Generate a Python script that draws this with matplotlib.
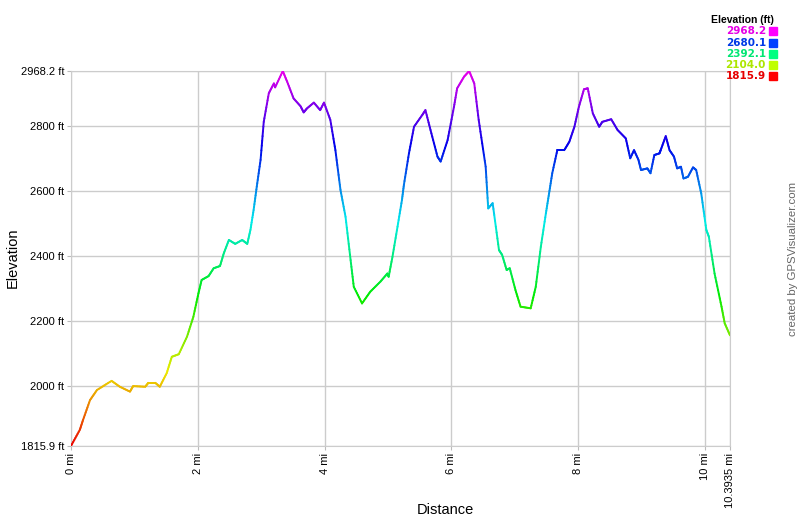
import colorsys
import matplotlib
matplotlib.use("Agg")
import matplotlib.pyplot as plt
import numpy as np
from matplotlib.collections import LineCollection

# distance (mi) and elevation (ft)
dist = [0.00, 0.14, 0.19, 0.30, 0.41, 0.64, 0.77, 0.93, 0.98, 1.17, 1.22, 1.33,
        1.40, 1.51, 1.59, 1.70, 1.83, 1.93, 2.01, 2.06, 2.17, 2.25, 2.35, 2.41,
        2.49, 2.59, 2.70, 2.78, 2.83, 2.88, 2.93, 2.99, 3.04, 3.12, 3.20, 3.22,
        3.34, 3.41, 3.51, 3.62, 3.67, 3.72, 3.83, 3.93, 3.99, 4.09, 4.17, 4.25,
        4.33, 4.41, 4.46, 4.59, 4.72, 4.88, 4.99, 5.01, 5.07, 5.15, 5.22, 5.25,
        5.33, 5.41, 5.54, 5.59, 5.67, 5.78, 5.83, 5.94, 6.04, 6.09, 6.20, 6.28,
        6.36, 6.43, 6.54, 6.58, 6.65, 6.75, 6.80, 6.87, 6.92, 7.01, 7.09, 7.25,
        7.33, 7.41, 7.49, 7.54, 7.59, 7.67, 7.78, 7.86, 7.94, 8.01, 8.09, 8.15,
        8.23, 8.33, 8.38, 8.52, 8.62, 8.75, 8.82, 8.88, 8.95, 8.99, 9.09, 9.14,
        9.20, 9.28, 9.30, 9.38, 9.44, 9.51, 9.56, 9.62, 9.66, 9.73, 9.81, 9.86,
        9.94, 10.02, 10.06, 10.15, 10.26, 10.31, 10.3935]
elev = [1816, 1866, 1896, 1957, 1988, 2016, 1998, 1983, 2000, 1998, 2010, 2010,
        1998, 2040, 2090, 2098, 2152, 2213, 2285, 2326, 2338, 2362, 2369, 2408,
        2449, 2437, 2449, 2437, 2480, 2541, 2613, 2695, 2812, 2900, 2930, 2918,
        2968, 2935, 2884, 2860, 2841, 2853, 2871, 2848, 2871, 2818, 2725, 2603,
        2520, 2387, 2305, 2254, 2290, 2321, 2346, 2336, 2397, 2490, 2572, 2618,
        2715, 2797, 2833, 2848, 2787, 2705, 2690, 2756, 2858, 2915, 2951, 2968,
        2930, 2818, 2674, 2546, 2562, 2418, 2403, 2357, 2362, 2295, 2244, 2239,
        2305, 2428, 2531, 2592, 2654, 2725, 2725, 2751, 2797, 2858, 2912, 2915,
        2838, 2797, 2812, 2820, 2787, 2761, 2700, 2725, 2695, 2664, 2669, 2654,
        2710, 2715, 2725, 2768, 2725, 2705, 2669, 2674, 2638, 2643, 2672, 2664,
        2592, 2480, 2459, 2346, 2244, 2193, 2156]

ymin, ymax = 1815.9, 2968.2
xmax = 10.3935
yticks = [1815.9, 2000, 2200, 2400, 2600, 2800, 2968.2]
ytick_labels = ["1815.9 ft", "2000 ft", "2200 ft", "2400 ft", "2600 ft", "2800 ft", "2968.2 ft"]
xticks = [0, 2, 4, 6, 8, 10, 10.3935]
xtick_labels = ["0 mi", "2 mi", "4 mi", "6 mi", "8 mi", "10 mi", "10.3935 mi"]
legend_vals = ["2968.2", "2680.1", "2392.1", "2104.0", "1815.9"]


def elev_color(e, v=0.92):
    h = (e - ymin) / (ymax - ymin) * 300.0 / 360.0
    return colorsys.hsv_to_rgb(h, 1.0, v)


plt.rcParams['font.family'] = ['Liberation Sans', 'DejaVu Sans']

fig = plt.figure(figsize=(8, 5.17), dpi=100)
ax = fig.add_axes([71 / 800, 1 - 446 / 517, 659 / 800, 375 / 517])

# densify so the colour gradient is smooth
xd, yd = [], []
for i in range(len(dist) - 1):
    t = np.linspace(0, 1, 8, endpoint=False)
    xd.extend(dist[i] + (dist[i + 1] - dist[i]) * t)
    yd.extend(elev[i] + (elev[i + 1] - elev[i]) * t)
xd.append(dist[-1])
yd.append(elev[-1])
pts = np.column_stack([xd, yd]).reshape(-1, 1, 2)
segs = np.concatenate([pts[:-1], pts[1:]], axis=1)
cols = [elev_color((a + b) / 2) for a, b in zip(yd[:-1], yd[1:])]
lc = LineCollection(segs, colors=cols, linewidth=1.4, capstyle='round', zorder=3)
ax.add_collection(lc)

ax.set_xlim(0, xmax)
ax.set_ylim(ymin, ymax)
ax.set_xticks(xticks)
ax.set_xticklabels(xtick_labels, rotation=90, fontsize=8)
ax.set_yticks(yticks)
ax.set_yticklabels(ytick_labels, fontsize=8)
ax.tick_params(length=3, color='#bbbbbb', pad=2)
ax.grid(True, color='#cccccc', linewidth=1)
for s in ax.spines.values():
    s.set_color('#cccccc')

fig.text(445 / 800, 1 - 510 / 517, "Distance", ha='center', va='center', fontsize=10.5)
fig.text(13 / 800, 1 - 258 / 517, "Elevation", ha='center', va='center', rotation=90, fontsize=10.5)
fig.text(793 / 800, 1 - 259 / 517, "created by GPSVisualizer.com", ha='center', va='center',
         rotation=90, fontsize=8.2, color='#666666')

# legend
fig.text(774 / 800, 1 - 20 / 517, "Elevation (ft)", ha='right', va='center',
         fontsize=7.5, fontweight='bold')
for i, lab in enumerate(legend_vals):
    y = 1 - (31.5 + i * 11.2) / 517
    c = elev_color(float(lab), v=0.9)
    fig.text(766 / 800, y, lab, ha='right', va='center', fontsize=7.5,
             fontweight='bold', color=c, family='DejaVu Sans')
    fig.patches.append(plt.Rectangle((769 / 800, y - 4 / 517), 8 / 800, 8 / 517,
                                     transform=fig.transFigure, color=elev_color(float(lab), v=1.0)))

fig.savefig("out.png", dpi=100)
